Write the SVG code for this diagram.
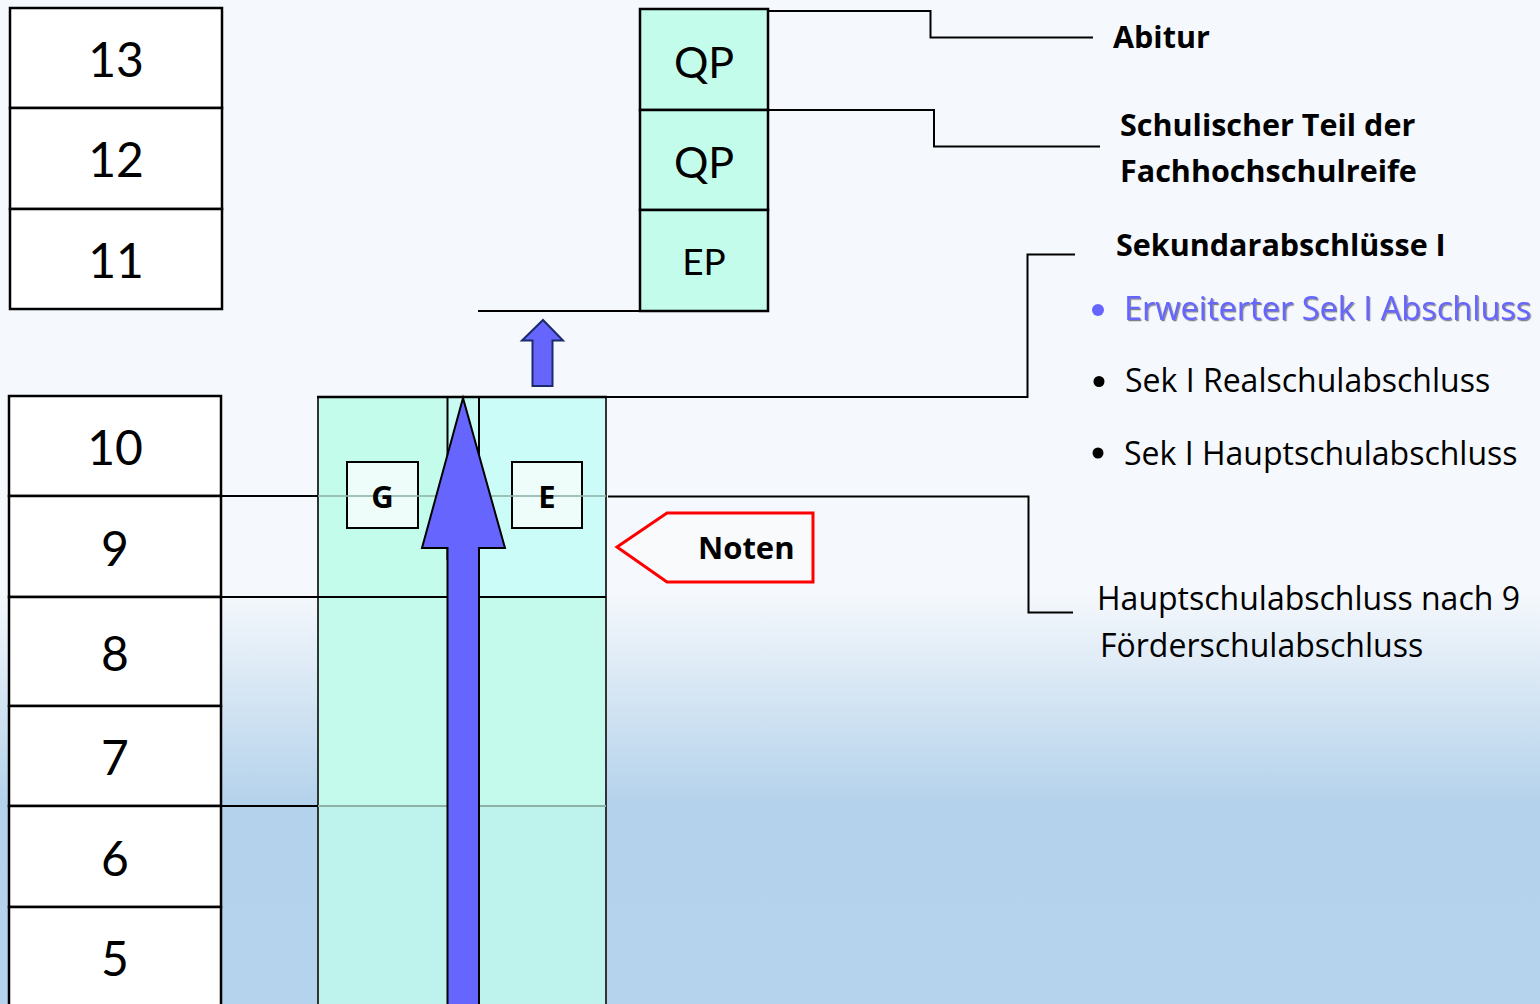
<svg xmlns="http://www.w3.org/2000/svg" width="1540" height="1004" viewBox="0 0 1540 1004">
<defs>
<linearGradient id="bg" x1="0" y1="0" x2="0" y2="1004" gradientUnits="userSpaceOnUse">
<stop offset="0" stop-color="#F5F8FC"/>
<stop offset="0.59" stop-color="#F5F8FC"/>
<stop offset="0.8" stop-color="#B4D2EB"/>
<stop offset="1" stop-color="#B5D3EC"/>
</linearGradient>
<filter id="shadow" x="-5%" y="-20%" width="110%" height="150%">
<feDropShadow dx="1.2" dy="1.2" stdDeviation="0.6" flood-color="#222" flood-opacity="0.55"/>
</filter>
</defs>
<style>
.box{fill:#FFFFFF;stroke:#000;stroke-width:2.5}
.num{font-family:Lato,"Open Sans",sans-serif;font-size:48px;fill:#000;text-anchor:middle}
.q{fill:#C4FCEC;stroke:#000;stroke-width:2.5}
.qt{font-family:Lato,"Open Sans",sans-serif;fill:#000;text-anchor:middle}
.lbl{font-family:"Open Sans",Lato,sans-serif;fill:#000}
.b{font-weight:bold}
.ln{fill:none;stroke:#000;stroke-width:2}
.gl{fill:none;stroke:#8DB3A9;stroke-width:2}
.ge{fill:#EEFDF9;stroke:#000;stroke-width:2}
.arrow{fill:#6666FF;stroke:#000;stroke-width:2;stroke-linejoin:miter}
</style>
<rect x="0" y="0" width="1540" height="1004" fill="url(#bg)"/>

<g id="grades-upper">
<g id="g13"><rect class="box" x="10" y="8" width="212" height="100"/><text class="num" x="116" y="77">13</text></g>
<g id="g12"><rect class="box" x="10" y="108" width="212" height="101"/><text class="num" x="116" y="177">12</text></g>
<g id="g11"><rect class="box" x="10" y="209" width="212" height="100"/><text class="num" x="116" y="278">11</text></g>
</g>

<g id="grades-lower">
<g id="g10"><rect class="box" x="9" y="396" width="212" height="100"/><text class="num" x="115" y="465">10</text></g>
<g id="g9"><rect class="box" x="9" y="496" width="212" height="101"/><text class="num" x="115" y="566">9</text></g>
<g id="g8"><rect class="box" x="9" y="597" width="212" height="109"/><text class="num" x="115" y="671">8</text></g>
<g id="g7"><rect class="box" x="9" y="706" width="212" height="100"/><text class="num" x="115" y="775">7</text></g>
<g id="g6"><rect class="box" x="9" y="806" width="212" height="101"/><text class="num" x="115" y="876">6</text></g>
<g id="g5"><rect class="box" x="9" y="907" width="212" height="110"/><text class="num" x="115" y="976">5</text></g>
</g>

<g id="column">
<rect x="318" y="397" width="129" height="200" fill="#C4FCEC"/>
<rect x="447" y="397" width="32" height="200" fill="#C8FBF2"/>
<rect x="479" y="397" width="127" height="200" fill="#CCFCF8"/>
<rect x="318" y="597" width="288" height="209" fill="#C4FAEC"/>
<rect x="318" y="806" width="288" height="200" fill="#BDF3EC"/>
<line x1="318" y1="397" x2="318" y2="1004" stroke="#333" stroke-width="2"/>
<line x1="606" y1="397" x2="606" y2="1004" stroke="#333" stroke-width="2"/>
<line x1="447.5" y1="397" x2="447.5" y2="560" stroke="#000" stroke-width="2"/>
<line x1="479" y1="397" x2="479" y2="560" stroke="#000" stroke-width="2"/>
<line x1="317" y1="397" x2="607" y2="397" stroke="#000" stroke-width="2.5"/>
<line x1="318" y1="597" x2="606" y2="597" stroke="#000" stroke-width="2"/>
<rect class="ge" x="347" y="462" width="71" height="66"/>
<rect class="ge" x="512" y="462" width="70" height="66"/>
<line class="gl" x1="318" y1="496" x2="606" y2="496" stroke-opacity="0.8"/>
<line class="gl" x1="318" y1="806" x2="606" y2="806"/>
<g id="node-G"><text class="lbl b" x="382.5" y="507.5" font-size="31" text-anchor="middle">G</text></g>
<g id="node-E"><text class="lbl b" x="547" y="507.5" font-size="31" text-anchor="middle">E</text></g>
<path id="main-arrow" class="arrow" d="M463,398 L505,548 L479,548 L479,1010 L447.5,1010 L447.5,548 L422,548 Z"/>
</g>

<g id="oberstufe">
<g id="qp2"><rect class="q" x="640" y="9" width="128" height="101"/><text class="qt" x="704" y="78" font-size="43">QP</text></g>
<g id="qp1"><rect class="q" x="640" y="110" width="128" height="100"/><text class="qt" x="704" y="178" font-size="43">QP</text></g>
<g id="ep"><rect class="q" x="640" y="210" width="128" height="101"/><text class="qt" x="704" y="275" font-size="37">EP</text></g>
</g>

<g id="small-arrow">
<path d="M543,320 L563,340.5 L552.5,340.5 L552.5,386 L532.5,386 L532.5,340.5 L522,340.5 Z" fill="#6666FF" stroke="#1A2A6A" stroke-width="2"/>
</g>

<g id="noten">
<polygon points="617,547 667,513 813,513 813,582 667,582" fill="#F8FAFC" stroke="#FF0000" stroke-width="3"/>
<text class="lbl b" x="698" y="559" font-size="31">Noten</text>
</g>

<g id="connectors">
<polyline class="ln" points="478,311 640,311"/>
<polyline class="ln" points="768,11 930.5,11 930.5,37.5 1093,37.5"/>
<polyline class="ln" points="768,110 934,110 934,146.5 1100,146.5"/>
<polyline class="ln" points="606,397 1027.5,397 1027.5,254.5 1075,254.5"/>
<polyline class="ln" points="608,496.5 1028.5,496.5 1028.5,612.5 1073,612.5"/>
<line class="ln" x1="221" y1="496" x2="318" y2="496"/>
<line class="ln" x1="221" y1="597" x2="318" y2="597"/>
<line class="ln" x1="221" y1="806" x2="318" y2="806"/>
</g>

<g id="labels">
<text class="lbl b" x="1113" y="48" font-size="30.5">Abitur</text>
<text class="lbl b" x="1120" y="136" font-size="30.5">Schulischer Teil der</text>
<text class="lbl b" x="1120" y="182" font-size="30.5">Fachhochschulreife</text>
<text class="lbl b" x="1116" y="256" font-size="30.5">Sekundarabschlüsse I</text>
<circle cx="1098" cy="310" r="6" fill="#6666FF"/>
<text class="lbl" x="1124" y="320" font-size="32.5" style="fill:#6666FF" filter="url(#shadow)">Erweiterter Sek I Abschluss</text>
<circle cx="1099" cy="381.5" r="5.5" fill="#000"/>
<text class="lbl" x="1125" y="392" font-size="32">Sek I Realschulabschluss</text>
<circle cx="1098" cy="453" r="5.5" fill="#000"/>
<text class="lbl" x="1124" y="465" font-size="32">Sek I Hauptschulabschluss</text>
<text class="lbl" x="1097" y="610" font-size="32">Hauptschulabschluss nach 9</text>
<text class="lbl" x="1100" y="657" font-size="32">Förderschulabschluss</text>
</g>
</svg>
